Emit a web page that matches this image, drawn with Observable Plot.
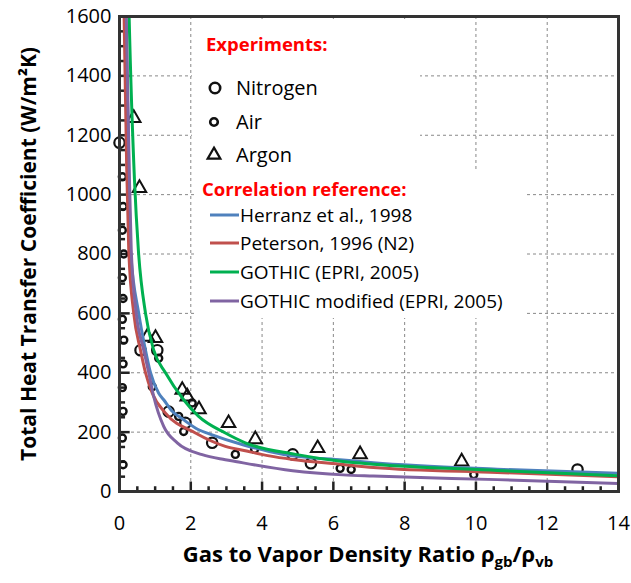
<!DOCTYPE html>
<html><head><meta charset="utf-8">
<script src="https://cdn.jsdelivr.net/npm/d3@7"></script>
<script src="https://cdn.jsdelivr.net/npm/@observablehq/plot@0.6"></script>
<style>body{margin:0;background:#fff} #chart{width:631px;height:583px}</style>
</head><body><div id="chart"></div>
<script>
const FONT = "'Open Sans', sans-serif";
const xTicks = [0, 2, 4, 6, 8, 10, 12, 14];
const yTicks = [0, 200, 400, 600, 800, 1000, 1200, 1400, 1600];
const xGrid = [2, 4, 6, 8, 10, 12];
const yGrid = [200, 400, 600, 800, 1000, 1200, 1400];

// correlation curves
const herranzX = [0.16, 0.18, 0.26, 0.31, 0.54, 0.73, 0.87, 1.10, 1.24, 1.48, 1.76, 2.22, 2.5, 3.53, 4.2, 4.86, 6.27, 7.12, 10.6, 14];
const herranzY = [1700, 1600, 1100, 812, 600, 476, 400, 331, 309, 270, 245, 208, 195, 155, 135, 120, 106, 97, 75, 61];
const petersonX = [0.11, 0.13, 0.2, 0.26, 0.40, 0.59, 0.73, 0.92, 1.29, 2.13, 2.97, 3.53, 4.2, 4.86, 6.27, 7.12, 10.6, 14];
const petersonY = [1750, 1600, 1100, 812, 600, 476, 400, 331, 264, 197, 152, 137, 120, 108, 91, 81, 64, 50];
const gothicX = [0.25, 0.27, 0.42, 0.53, 0.73, 0.96, 1.29, 1.8, 2.22, 2.97, 3.53, 4.94, 6.27, 7.12, 10.6, 14];
const gothicY = [1700, 1600, 1050, 812, 600, 476, 400, 309, 253, 197, 164, 125, 101, 92, 71, 53];
const gothicModX = [0.17, 0.19, 0.27, 0.33, 0.47, 0.68, 0.82, 0.96, 1.24, 1.62, 2.32, 2.97, 3.25, 4.86, 6.27, 7.12, 10.6, 14];
const gothicModY = [1700, 1600, 1100, 812, 600, 476, 400, 320, 219, 164, 124, 107, 101, 70, 56, 52, 40, 27];

const seriesNames = ["Herranz et al., 1998", "Peterson, 1996 (N2)", "GOTHIC (EPRI, 2005)", "GOTHIC modified (EPRI, 2005)"];
const seriesColors = ["#4F81BD", "#C0504D", "#00B050", "#8064A2"];

// experiments
const nitrogenX = [0, 1.06, 0.59, 1.38, 1.85, 2.6, 4.86, 5.37, 12.85];
const nitrogenY = [1175, 476, 476, 269, 231, 164, 125, 95, 74];
const airX = [1.10, 0.92, 1.66, 1.8, 2.04, 3.25, 3.79, 6.19, 6.5, 9.94, 0.08, 0.1, 0.08, 0.12, 0.08, 0.1, 0.08, 0.12, 0.1, 0.08, 0.1, 0.08, 0.1];
const airY = [449, 353, 253, 202, 298, 125, 142, 78, 74, 57, 1060, 960, 880, 800, 720, 650, 580, 510, 430, 350, 270, 180, 90];
const argonX = [0.4, 0.56, 0.78, 1.01, 1.76, 1.9, 2.23, 3.06, 3.81, 5.56, 6.75, 9.6];
const argonY = [1258, 1022, 521, 517, 342, 320, 277, 230, 176, 146, 125, 101];

const lines = [];
[[herranzX, herranzY], [petersonX, petersonY], [gothicX, gothicY], [gothicModX, gothicModY]].forEach(([xs, ys], i) => {
  xs.forEach((x, j) => lines.push({series: seriesNames[i], x, y: ys[j]}));
});
const toPts = (xs, ys) => xs.map((x, i) => ({x, y: ys[i]}));
const nitrogen = toPts(nitrogenX, nitrogenY);
const air = toPts(airX, airY);
const argon = toPts(argonX, argonY);

const minorX = d3.range(0.5, 14, 0.5).filter(v => v % 2 !== 0);
const minorY = d3.range(50, 1600, 50).filter(v => v % 200 !== 0);

const W = 631, H = 583;
const chart = Plot.plot({
  width: W, height: H,
  marginLeft: 119, marginRight: 13, marginTop: 16, marginBottom: 92,
  style: {fontFamily: FONT, fontSize: "20px", color: "black", background: "white"},
  x: {domain: [0, 14]},
  y: {domain: [0, 1600]},
  color: {domain: seriesNames, range: seriesColors},
  marks: [
    Plot.gridX(xGrid, {stroke: "#888", strokeOpacity: 1, strokeDasharray: "3,3"}),
    Plot.gridY(yGrid, {stroke: "#888", strokeOpacity: 1, strokeDasharray: "3,3"}),
    Plot.ruleX(minorX, {y1: 0, y2: 16, stroke: "#222", strokeWidth: 2.5}),
    Plot.ruleX(xGrid, {y1: 0, y2: 32, stroke: "#222", strokeWidth: 2.5}),
    Plot.ruleY(minorY, {x1: 0, x2: 0.17, stroke: "#222", strokeWidth: 2.5}),
    Plot.ruleY(yGrid, {x1: 0, x2: 0.3, stroke: "#222", strokeWidth: 2.5}),
    Plot.dot(air, {x: "x", y: "y", r: 3.5, stroke: "#111", strokeWidth: 2.4, fill: "none"}),
    Plot.dot(nitrogen, {x: "x", y: "y", r: 5.2, stroke: "#111", strokeWidth: 2.2, fill: "none"}),
    Plot.dot(argon, {x: "x", y: "y", r: 5, symbol: "triangle", stroke: "#111", strokeWidth: 2, fill: "none"}),
    Plot.line(lines, {x: "x", y: "y", z: "series", stroke: "series", strokeWidth: 3, curve: "monotone-x", clip: true}),
    Plot.frame({stroke: "#333", strokeWidth: 3}),
    Plot.axisY({ticks: yTicks, tickSize: 0, tickPadding: 8, fontSize: 20, label: null, tickFormat: d => String(d)}),
    Plot.axisX({ticks: xTicks, tickSize: 0, tickPadding: 24, fontSize: 20, label: null, tickFormat: d => String(d)})
  ]
});
document.getElementById("chart").appendChild(chart);

const svg = d3.select(chart);
// legend background boxes
const bg = svg.append("g");
bg.append("rect").attr("x", 192).attr("y", 19).attr("width", 228).attr("height", 152)
  .attr("fill", "#ffffff").style("fill", "#ffffff").style("stroke", "none");
bg.append("rect").attr("x", 196).attr("y", 170).attr("width", 328).attr("height", 148)
  .attr("fill", "#ffffff").style("fill", "#ffffff").style("stroke", "none");

const lg = svg.append("g").attr("font-family", FONT).attr("text-anchor", "start").style("text-anchor", "start");
lg.append("text").attr("x", 206).attr("y", 51).attr("fill", "#FF0000").attr("font-weight", "bold").attr("font-size", 18.5).text("Experiments:");
lg.append("circle").attr("cx", 215).attr("cy", 88).attr("r", 5.2).attr("fill", "none").attr("stroke", "#111").attr("stroke-width", 2.6);
lg.append("circle").attr("cx", 214).attr("cy", 122).attr("r", 3.8).attr("fill", "none").attr("stroke", "#111").attr("stroke-width", 2.6);
lg.append("path").attr("d", d3.symbol(d3.symbolTriangle, 70)()).attr("transform", "translate(214,155)").attr("fill", "none").attr("stroke", "#111").attr("stroke-width", 2.2);
[["Nitrogen", 88], ["Air", 122], ["Argon", 155]].forEach(([t, y]) => {
  lg.append("text").attr("x", 236).attr("y", y).attr("dy", "0.36em").attr("font-size", 20).attr("fill", "black").text(t);
});
lg.append("text").attr("x", 202).attr("y", 196).attr("fill", "#FF0000").attr("font-weight", "bold").attr("font-size", 18.5).text("Correlation reference:");
const ly = [215, 243, 272, 301];
seriesNames.forEach((name, i) => {
  lg.append("line").attr("x1", 210).attr("x2", 239).attr("y1", ly[i]).attr("y2", ly[i]).attr("stroke", seriesColors[i]).attr("stroke-width", 3);
  lg.append("text").attr("x", 240).attr("y", ly[i]).attr("dy", "0.36em").attr("font-size", 19).attr("fill", "black").text(name);
});

// axis titles
const xt = svg.append("text").attr("x", 368).attr("y", 562).attr("text-anchor", "middle")
  .attr("font-family", FONT).attr("font-weight", "bold").attr("font-size", 22).attr("fill", "black");
xt.append("tspan").text("Gas to Vapor Density Ratio ρ");
xt.append("tspan").attr("dy", 5).attr("font-size", 15).text("gb");
xt.append("tspan").attr("dy", -5).text("/ρ");
xt.append("tspan").attr("dy", 5).attr("font-size", 15).text("vb");

svg.append("text").attr("transform", "translate(36,254) rotate(-90)").attr("text-anchor", "middle")
  .attr("font-family", FONT).attr("font-weight", "bold").attr("font-size", 21).attr("fill", "black")
  .text("Total Heat Transfer Coefficient (W/m²K)");
</script>
</body></html>
